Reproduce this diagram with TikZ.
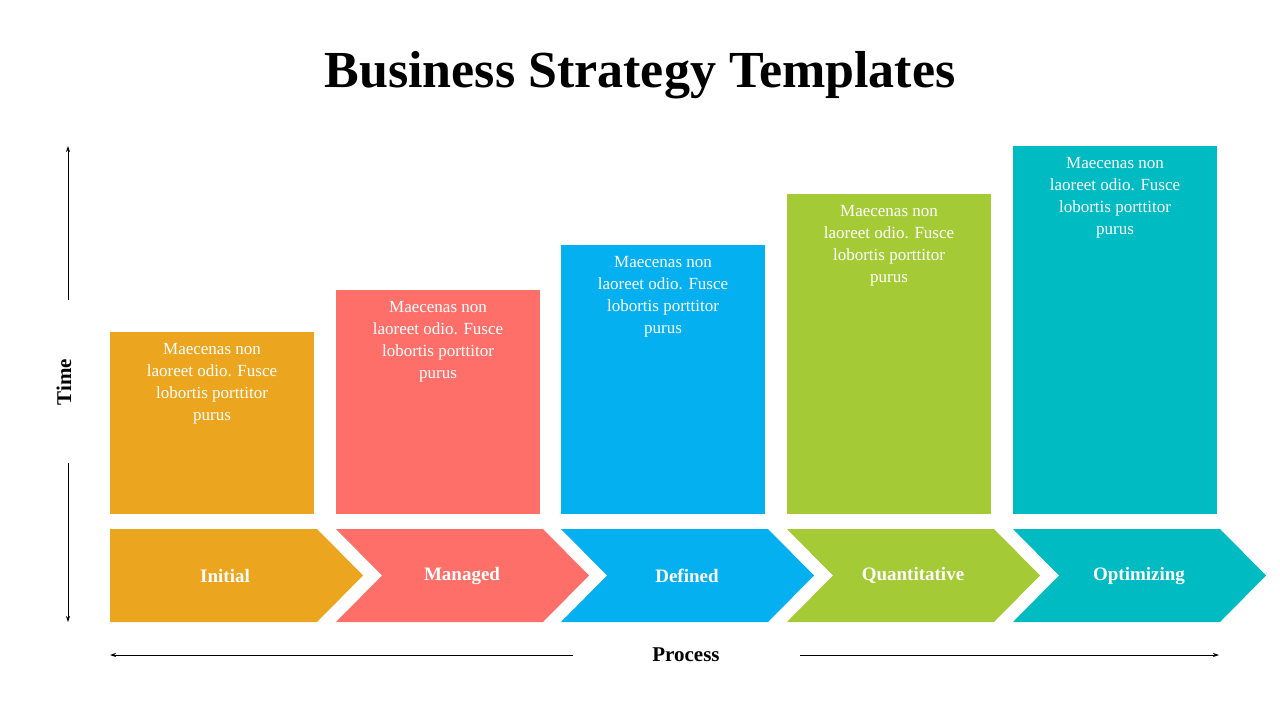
\documentclass[tikz,border=0pt]{standalone}
\usepackage{fontspec}
\setmainfont{Liberation Serif}
\usetikzlibrary{arrows.meta}
\definecolor{cA}{HTML}{EBA51E}
\definecolor{cB}{HTML}{FF6F69}
\definecolor{cC}{HTML}{04B0F0}
\definecolor{cD}{HTML}{A4CB36}
\definecolor{cE}{HTML}{00BBC2}
\tikzset{
  body/.style={text=white,align=center,font=\fontsize{17}{22}\selectfont,anchor=north,inner sep=0pt},
  lab/.style={text=white,font=\bfseries\fontsize{19}{22}\selectfont},
  axis/.style={-{Stealth[length=6pt,width=4pt]},line width=0.8pt}
}
\begin{document}
\begin{tikzpicture}[x=1pt,y=-1pt]
\useasboundingbox (0,0) rectangle (1280,720);
\node[font=\bfseries\fontsize{52}{60}\selectfont] (title) at (640,75) {Business Strategy Templates};
\foreach \i/\x/\t/\c/\l in {1/110/332/cA/Initial,2/336/290/cB/Managed,3/561/245/cC/Defined,4/787/194/cD/Quantitative,5/1013/146/cE/Optimizing}{
  \fill[\c] (\x,\t) rectangle (\x+204,514);
  \node[body] (b\i) at (\x+102,\t+11) {Maecenas non\\laoreet odio. Fusce\\lobortis porttitor\\purus};
  \ifnum\i=1
    \fill[\c] (\x,529) -- (\x+207,529) -- (\x+253,575.5) -- (\x+207,622) -- (\x,622) -- cycle;
  \else
    \fill[\c] (\x,529) -- (\x+207,529) -- (\x+253,575.5) -- (\x+207,622) -- (\x,622) -- (\x+46,575.5) -- cycle;
  \fi
  \node[lab] (l\i) at (\x+\ifnum\i=1 115\else 126\fi,575.5) {\l};
}
\coordinate (t1) at (68,300); \coordinate (t2) at (68,146);
\coordinate (t3) at (68,463); \coordinate (t4) at (68,622);
\draw[axis] (t1) -- (t2);
\draw[axis] (t3) -- (t4);
\node[rotate=90,font=\bfseries\fontsize{21}{24}\selectfont] (time) at (64,382) {Time};
\coordinate (p1) at (573,655); \coordinate (p2) at (110,655);
\coordinate (p3) at (800,655); \coordinate (p4) at (1219,655);
\draw[axis] (p1) -- (p2);
\draw[axis] (p3) -- (p4);
\node[font=\bfseries\fontsize{21}{24}\selectfont] (proc) at (686,655) {Process};
\end{tikzpicture}
\end{document}
